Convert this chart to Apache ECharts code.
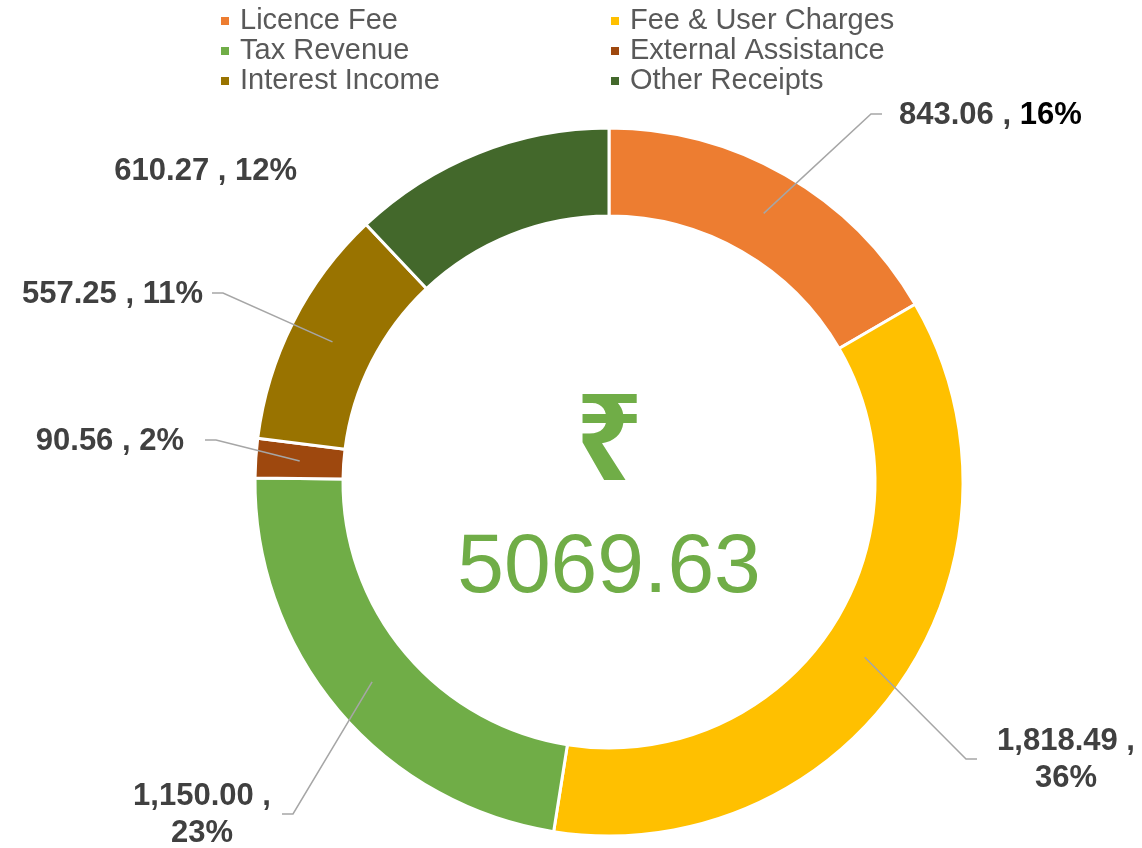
<!DOCTYPE html>
<html>
<head>
<meta charset="utf-8">
<script src="https://cdn.jsdelivr.net/npm/echarts@6/dist/echarts.min.js"></script>
<style>
html, body { margin: 0; padding: 0; background: #fff; }
#chart { width: 1142px; height: 848px; }
</style>
</head>
<body>
<div id="chart"></div>
<script>
const categories = ['Licence Fee', 'Fee & User Charges', 'Tax Revenue', 'External Assistance', 'Interest Income', 'Other Receipts'];
const amounts = [843.06, 1818.49, 1150.00, 90.56, 557.25, 610.27];
const percentLabels = ['16%', '36%', '23%', '2%', '11%', '12%'];
const colors = ['#ED7D31', '#FFC000', '#70AD47', '#9E480E', '#997300', '#43682B'];

// where the labels sit (hand placed in the original), lineX = end of leader line
const labelSpots = [
  { x: 899, y: 115, align: 'left', lineX: 882 },
  { x: 1066, y: 760, align: 'center', lineX: 977, wrap: true },
  { x: 202, y: 815, align: 'center', lineX: 282, wrap: true },
  { x: 184, y: 441, align: 'right', lineX: 205 },
  { x: 203, y: 294, align: 'right', lineX: 212 },
  { x: 297, y: 171, align: 'right', lineX: null }
];

const cx = 609, cy = 482, rIn = 266, rOut = 354;
const total = amounts.reduce((a, b) => a + b, 0);

const chart = echarts.init(document.getElementById('chart'));

const legendBase = {
  orient: 'vertical',
  top: 1,
  icon: 'rect',
  itemWidth: 10,
  itemHeight: 10,
  itemGap: 0,
  selectedMode: false,
  textStyle: { fontSize: 29, color: '#595959', fontFamily: 'Liberation Sans', lineHeight: 30, padding: [0, 0, 0, 5] }
};

const option = {
  backgroundColor: '#fff',
  animation: false,
  legend: [
    Object.assign({}, legendBase, { left: 214, data: categories.filter((c, i) => i % 2 === 0) }),
    Object.assign({}, legendBase, { left: 604, data: categories.filter((c, i) => i % 2 === 1) })
  ],
  graphic: [
    {
      type: 'text',
      x: cx,
      y: 446,
      style: { text: '₹', fontSize: 120, fontWeight: 'bold', fontFamily: 'Noto Sans', fill: '#70AD47', align: 'center', verticalAlign: 'middle' }
    },
    {
      type: 'text',
      x: cx,
      y: 569,
      style: { text: total.toFixed(2), fontSize: 84, fontFamily: 'Liberation Sans', fill: '#70AD47', align: 'center', verticalAlign: 'middle' }
    }
  ],
  series: [
    {
      // the ring itself
      type: 'pie',
      z: 2,
      center: [cx, cy],
      radius: [rIn, rOut],
      startAngle: 90,
      clockwise: true,
      emphasis: { scale: false },
      itemStyle: { borderColor: '#fff', borderWidth: 3 },
      label: { show: false },
      labelLine: { show: false },
      data: categories.map((name, i) => ({ name: name, value: amounts[i], itemStyle: { color: colors[i] } }))
    },
    {
      // same slices, transparent, only to carry labels + leader lines above the ring
      type: 'pie',
      z: 3,
      silent: true,
      legendHoverLink: false,
      center: [cx, cy],
      radius: [rIn, rOut],
      startAngle: 90,
      clockwise: true,
      avoidLabelOverlap: false,
      emphasis: { scale: false },
      itemStyle: { color: 'rgba(0,0,0,0)', borderWidth: 0 },
      label: {
        show: true,
        position: 'outside',
        fontSize: 31,
        fontWeight: 'bold',
        color: '#404040',
        fontFamily: 'Liberation Sans',
        lineHeight: 37,
        formatter: function (p) {
          const i = p.dataIndex;
          const v = amounts[i].toLocaleString('en-US', { minimumFractionDigits: 2, maximumFractionDigits: 2 });
          if (i === 0) return v + ' , {k|' + percentLabels[i] + '}';
          return v + ' ,' + (labelSpots[i].wrap ? '\n' : ' ') + percentLabels[i];
        },
        rich: {
          k: { color: '#000', fontSize: 31, fontWeight: 'bold', fontFamily: 'Liberation Sans' }
        }
      },
      labelLine: {
        show: true,
        length: 20,
        length2: 10,
        lineStyle: { color: '#A6A6A6', width: 1.5 }
      },
      labelLayout: function (p) {
        const s = labelSpots[p.dataIndex];
        const out = { x: s.x, y: s.y, align: s.align, verticalAlign: 'middle' };
        if (s.lineX != null && p.labelLinePoints) {
          const p0 = p.labelLinePoints[0];
          const dx = p0[0] - cx, dy = p0[1] - cy;
          const len = Math.sqrt(dx * dx + dy * dy);
          const rMid = (rIn + rOut) / 2;
          const start = [cx + dx / len * rMid, cy + dy / len * rMid];
          const side = s.lineX > cx ? -1 : 1;
          out.labelLinePoints = [start, [s.lineX + side * 11, s.y - 1], [s.lineX, s.y - 1]];
        }
        return out;
      },
      data: categories.map((name, i) => ({
        name: name,
        value: amounts[i],
        labelLine: { show: labelSpots[i].lineX != null }
      }))
    }
  ]
};

chart.setOption(option);
</script>
</body>
</html>
